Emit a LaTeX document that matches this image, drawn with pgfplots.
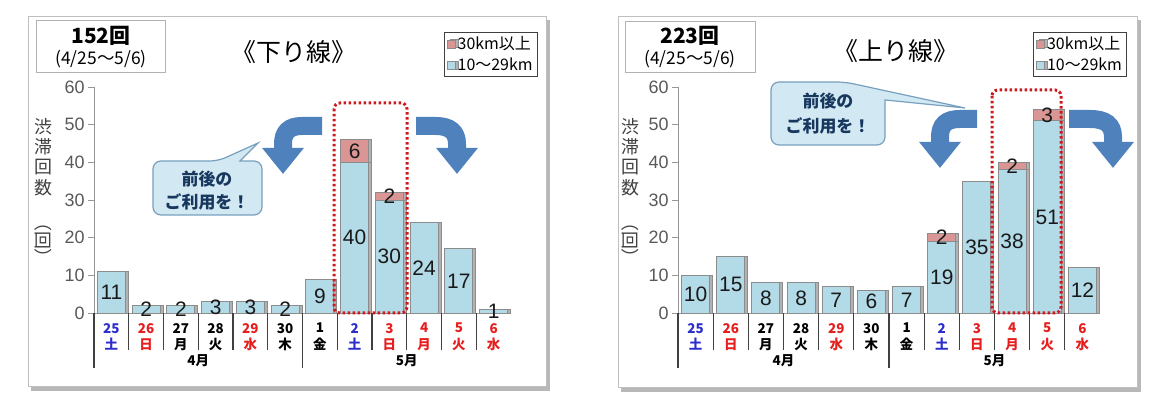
\documentclass[border=0pt]{standalone}
\usepackage{pgfplots}
\pgfplotsset{compat=1.18}
\usepackage{pgfplotstable}
\usepackage{fontspec}
\setmainfont{Liberation Sans}
\newfontfamily\jp{Noto Sans CJK JP}
\usetikzlibrary{arrows.meta}

\definecolor{barblue}{RGB}{178,218,231}
\definecolor{barpink}{RGB}{217,150,148}
\definecolor{baredge}{RGB}{140,140,140}
\definecolor{axisgray}{RGB}{150,150,150}
\definecolor{tickgray}{RGB}{89,89,89}
\definecolor{labgray}{RGB}{64,64,64}
\definecolor{satblue}{RGB}{45,45,205}
\definecolor{holred}{RGB}{230,30,30}
\definecolor{arrowblue}{RGB}{79,129,189}
\definecolor{dotred}{RGB}{205,25,30}
\definecolor{bubblefill}{RGB}{210,232,242}
\definecolor{bubbleedge}{RGB}{120,160,190}
\definecolor{bubbletext}{RGB}{23,55,94}

% day number over weekday
\newcommand\dl[3]{\textcolor{#1}{#2}\\\textcolor{#1}{#3}}

% 下り線: lo = 10-29km, hi = 30km and more
\pgfplotstableread{
x lo hi lolab hilab
0 11 0 11 {}
1 2 0 2 {}
2 2 0 2 {}
3 3 0 3 {}
4 3 0 3 {}
5 2 0 2 {}
6 9 0 9 {}
7 40 6 40 6
8 30 2 30 2
9 24 0 24 {}
10 17 0 17 {}
11 1 0 1 {}
}\kudari

% 上り線
\pgfplotstableread{
x lo hi lolab hilab
0 10 0 10 {}
1 15 0 15 {}
2 8 0 8 {}
3 8 0 8 {}
4 7 0 7 {}
5 6 0 6 {}
6 7 0 7 {}
7 19 2 19 2
8 35 0 35 {}
9 38 2 38 2
10 51 3 51 3
11 12 0 12 {}
}\nobori

\tikzset{sepline/.style={draw=labgray, line width=1.2bp}}

\pgfplotsset{
  jam/.style={
    scale only axis, height=226bp,
    anchor=south west,
    xmin=-0.5, xmax=11.5, ymin=0, ymax=60,
    enlargelimits=false,
    axis lines*=left,
    axis line style={draw=axisgray, line width=1bp, -},
    ytick={0,10,...,60},
    tick align=outside,
    major tick length=6bp,
    ytick style={draw=axisgray, line width=1bp},
    xtick={0,...,11},
    xtick style={draw=none},
    xticklabels={{\dl{satblue}{25}{土}},{\dl{holred}{26}{日}},{\dl{black}{27}{月}},
      {\dl{black}{28}{火}},{\dl{holred}{29}{水}},{\dl{black}{30}{木}},
      {\dl{black}{1}{金}},{\dl{satblue}{2}{土}},{\dl{holred}{3}{日}},
      {\dl{holred}{4}{月}},{\dl{holred}{5}{火}},{\dl{holred}{6}{水}}},
    xticklabel style={font=\jp\bfseries\fontsize{13.5}{16.5}\selectfont, align=center,
      anchor=north, inner sep=0pt, yshift=-4bp},
    yticklabel style={font=\fontsize{18}{18}\selectfont, text=tickgray},
    /pgf/number format/assume math mode=true,
    clip=false,
    legend cell align=left,
    legend image code/.code={\draw[#1, line width=0.6bp] (0bp,-4bp) rectangle (8bp,4bp);},
    legend style={at={(1.065,1.243)}, anchor=north east, draw=black!75, line width=1bp,
      fill=white, inner xsep=3bp, inner ysep=2bp, row sep=3bp,
      font=\jp\fontsize{16}{17}\selectfont},
  },
  bars/.style={ybar, bar width=28bp, bar shift=0pt, draw=baredge, line width=1bp,
    preaction={fill=black!30, transform canvas={xshift=3bp}}},
  labels/.style={forget plot, draw=none, mark=none, nodes near coords,
    point meta=explicit symbolic,
    every node near coord/.append style={font=\fontsize{21}{21}\selectfont,
      text=black!90, anchor=center, inner sep=0pt}},
}

\begin{document}
\begin{tikzpicture}[x=1bp,y=1bp]
\useasboundingbox (0,0) rectangle (1164,417);
\fill[white] (0,0) rectangle (1164,417);

% panels (image coordinates, y downwards)
\begin{scope}[yshift=417bp, yscale=-1]
  \fill[black!28] (31,20) rectangle (550,391);
  \draw[black!25, fill=white, line width=1bp] (28,17) rectangle (546,387);
  \fill[black!28] (621,20) rectangle (1141,392);
  \draw[black!25, fill=white, line width=1bp] (618,17) rectangle (1137,388);
\end{scope}

% 下り線
\begin{axis}[jam, at={(94bp,104bp)}, width=417bp]
  \addplot[bars, fill=barpink] table[x=x, y expr=\thisrow{lo}+\thisrow{hi}] {\kudari};
  \addlegendentry{30km以上}
  \addplot[bars, fill=barblue] table[x=x, y=lo] {\kudari};
  \addlegendentry{10～29km}
  \addplot[labels] table[x=x, y expr=\thisrow{lo}/2, meta=lolab] {\kudari};
  \addplot[labels] table[x=x, y expr=\thisrow{lo}+\thisrow{hi}/2, meta=hilab] {\kudari};
  \pgfplotsinvokeforeach{0.5,1.5,...,10.5}{\draw[sepline] (axis cs:#1,0) -- ++(0bp,-37bp);}
  \draw[sepline] (axis cs:-0.5,0) -- ++(0bp,-55bp);
  \draw[sepline] (axis cs:5.5,0) -- ++(0bp,-55bp);
  \node[font=\jp\bfseries\fontsize{13.5}{13.5}\selectfont] at (axis cs:2.5,0) [yshift=-48bp] {4月};
  \node[font=\jp\bfseries\fontsize{13.5}{13.5}\selectfont] at (axis cs:8.5,0) [yshift=-48bp] {5月};
\end{axis}

% 上り線
\begin{axis}[jam, at={(678bp,104bp)}, width=422bp]
  \addplot[bars, fill=barpink] table[x=x, y expr=\thisrow{lo}+\thisrow{hi}] {\nobori};
  \addlegendentry{30km以上}
  \addplot[bars, fill=barblue] table[x=x, y=lo] {\nobori};
  \addlegendentry{10～29km}
  \addplot[labels] table[x=x, y expr=\thisrow{lo}/2, meta=lolab] {\nobori};
  \addplot[labels] table[x=x, y expr=\thisrow{lo}+\thisrow{hi}/2, meta=hilab] {\nobori};
  \pgfplotsinvokeforeach{0.5,1.5,...,10.5}{\draw[sepline] (axis cs:#1,0) -- ++(0bp,-37bp);}
  \draw[sepline] (axis cs:-0.5,0) -- ++(0bp,-55bp);
  \draw[sepline] (axis cs:5.5,0) -- ++(0bp,-55bp);
  \node[font=\jp\bfseries\fontsize{13.5}{13.5}\selectfont] at (axis cs:2.5,0) [yshift=-48bp] {4月};
  \node[font=\jp\bfseries\fontsize{13.5}{13.5}\selectfont] at (axis cs:8.5,0) [yshift=-48bp] {5月};
\end{axis}

\begin{scope}[yshift=417bp, yscale=-1]
  % total boxes and titles
  \draw[black!30, fill=white, line width=0.8bp] (36,20) rectangle (165,72);
  \node[font=\jp\bfseries\fontsize{21}{21}\selectfont] at (101,36) {152回};
  \node[font=\jp\fontsize{17.5}{17.5}\selectfont] at (101,59) {(4/25～5/6)};
  \node[font=\jp\fontsize{25}{25}\selectfont] at (294,52) {《下り線》};
  \draw[black!30, fill=white, line width=0.8bp] (625,21) rectangle (755,72);
  \node[font=\jp\bfseries\fontsize{21}{21}\selectfont] at (690,36) {223回};
  \node[font=\jp\fontsize{17.5}{17.5}\selectfont] at (690,59) {(4/25～5/6)};
  \node[font=\jp\fontsize{25}{25}\selectfont] at (896,51) {《上り線》};

  % y labels
  \node[font=\jp\fontsize{18}{20.5}\selectfont, align=center, text=labgray] at (43,157) {渋\\滞\\回\\数};
  \node[font=\jp\fontsize{18}{18}\selectfont, rotate=-90, text=labgray] at (43,240) {（回）};
  \node[font=\jp\fontsize{18}{20.5}\selectfont, align=center, text=labgray] at (630,157) {渋\\滞\\回\\数};
  \node[font=\jp\fontsize{18}{18}\selectfont, rotate=-90, text=labgray] at (630,240) {（回）};

  % dotted frames round the peak days
  \draw[dotred, line width=3bp, dash pattern=on 2.5bp off 2.5bp, rounded corners=6bp] (334,103) rectangle (407,313);
  \draw[dotred, line width=3bp, dash pattern=on 2.5bp off 2.5bp, rounded corners=6bp] (992,90) rectangle (1061,313);

  % arrows
  \draw[arrowblue, line width=18bp, -{Triangle[width=40bp,length=26bp]}]
    (322,126) -- (302,126) .. controls (289,126) and (283,132) .. (283,144) -- (283,174);
  \draw[arrowblue, line width=18bp, -{Triangle[width=40bp,length=26bp]}]
    (416,126) -- (436,126) .. controls (450,126) and (457,132) .. (457,144) -- (457,174);
  \draw[arrowblue, line width=18bp, -{Triangle[width=40bp,length=26bp]}]
    (977,119) -- (960,119) .. controls (946,119) and (940,125) .. (940,137) -- (940,168);
  \draw[arrowblue, line width=18bp, -{Triangle[width=40bp,length=26bp]}]
    (1069,119) -- (1090,119) .. controls (1106,119) and (1113,125) .. (1113,137) -- (1113,168);

  % call-outs
  \draw[bubbleedge, fill=bubblefill, line width=1.2bp]
    (240,161) [rounded corners=8bp] -- (262,161) -- (262,215) -- (153,215) -- (153,161)
    -- (218,161) [sharp corners] -- (258,143) -- cycle;
  \node[font=\jp\bfseries\fontsize{17}{17}\selectfont, text=bubbletext] at (207,179) {前後の};
  \node[font=\jp\bfseries\fontsize{17}{17}\selectfont, text=bubbletext] at (207,202) {ご利用を！};
  \draw[bubbleedge, fill=bubblefill, line width=1.2bp]
    (885,100) [rounded corners=8bp] -- (885,145) -- (771,145) -- (771,82)
    -- (845,82) [sharp corners] -- (965,108) -- cycle;
  \node[font=\jp\bfseries\fontsize{17}{17}\selectfont, text=bubbletext] at (828,101) {前後の};
  \node[font=\jp\bfseries\fontsize{17}{17}\selectfont, text=bubbletext] at (828,126) {ご利用を！};
\end{scope}
\end{tikzpicture}
\end{document}
